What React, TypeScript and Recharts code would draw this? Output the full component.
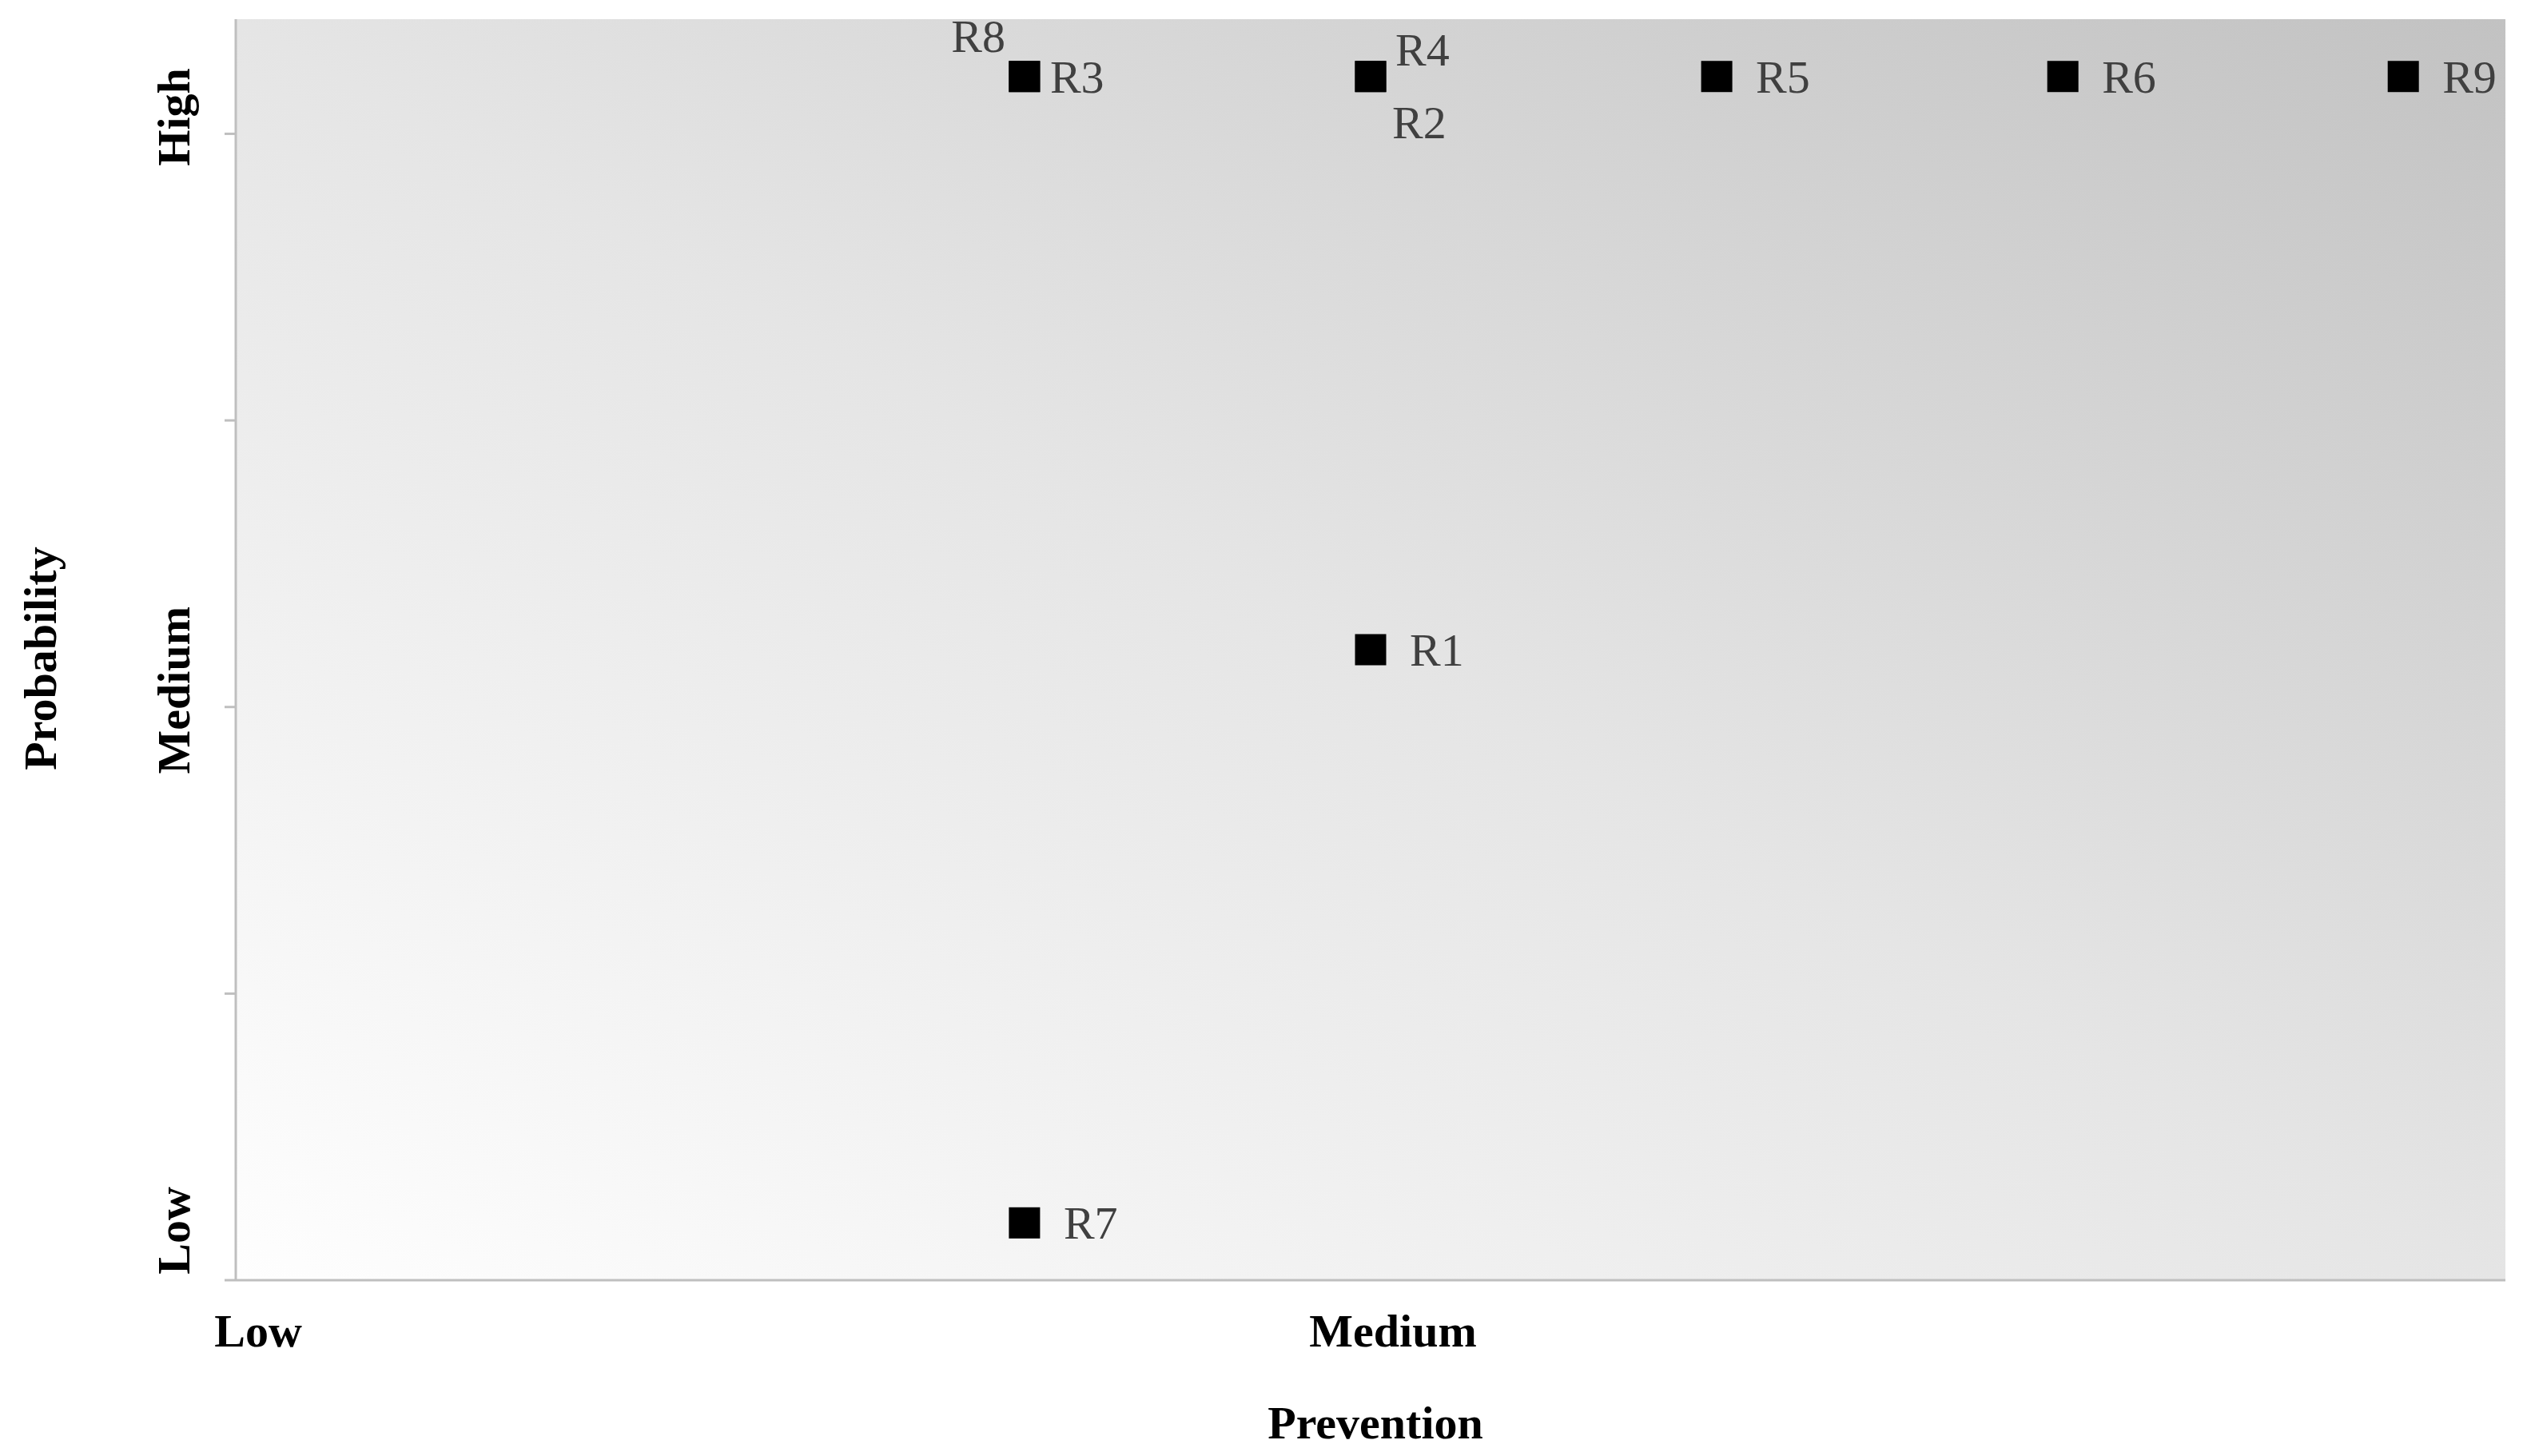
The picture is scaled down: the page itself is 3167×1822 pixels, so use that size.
import * as React from 'react'
import {
    CartesianGrid,
    Scatter,
    ScatterChart,
    XAxis,
    YAxis,
} from 'recharts'

// risk matrix values
const riskNames = ['R1', 'R2', 'R3', 'R4', 'R5', 'R6', 'R7', 'R8', 'R9']
const prevention = [2, 2, 1.39, 2, 2.61, 3.22, 1.39, 1.39, 3.82]
const probability = [2.2, 4.2, 4.2, 4.2, 4.2, 4.2, 0.2, 4.2, 4.2]

const levelTicks = [0, 2, 4]
const levelNames = ['Low', 'Medium', 'High']
const yTicks = [0, 1, 2, 3, 4]

// where each point's label sits relative to its marker
const labelPlacement: Record<string, { dx: number; dy: number; anchor: 'start' | 'end' }> = {
    R1: { dx: 49, dy: 0, anchor: 'start' },
    R2: { dx: 27, dy: 57, anchor: 'start' },
    R3: { dx: 32, dy: 0, anchor: 'start' },
    R4: { dx: 31, dy: -34, anchor: 'start' },
    R5: { dx: 49, dy: 0, anchor: 'start' },
    R6: { dx: 49, dy: 0, anchor: 'start' },
    R7: { dx: 49, dy: 0, anchor: 'start' },
    R8: { dx: -24, dy: -51, anchor: 'end' },
    R9: { dx: 49, dy: 0, anchor: 'start' },
}

const FONT = '"Liberation Serif", "DejaVu Serif", serif'
const AXIS_GRAY = '#bfbfbf'

const data = riskNames.map((name, i) => ({
    name,
    x: prevention[i],
    y: probability[i],
}))

function levelName(v: number) {
    const i = levelTicks.indexOf(v)
    return i >= 0 ? levelNames[i] : ''
}

function RiskMarker(props: any) {
    const { cx, cy } = props
    const name = props.payload?.name ?? props.name
    const place = labelPlacement[name] ?? { dx: 49, dy: 0, anchor: 'start' }
    const size = 39
    return (
        <g>
            <rect x={cx - size / 2} y={cy - size / 2} width={size} height={size} fill="#000" />
            <text
                x={cx + place.dx}
                y={cy + place.dy + 20}
                textAnchor={place.anchor}
                fontFamily={FONT}
                fontSize={58}
                fill="#404040"
            >
                {name}
            </text>
        </g>
    )
}

function XTick(props: any) {
    const { x, payload } = props
    return (
        <text
            x={x + 28}
            y={1685}
            textAnchor="middle"
            fontFamily={FONT}
            fontWeight="bold"
            fontSize={58}
            fill="#000"
        >
            {levelName(payload.value)}
        </text>
    )
}

function YTick(props: any) {
    const { y, payload } = props
    const label = levelName(payload.value)
    if (!label) return null
    const cy = y + (payload.value === 0 ? -62 : -21)
    return (
        <text
            x={237}
            y={cy}
            transform={`rotate(-90, 237, ${cy})`}
            textAnchor="middle"
            fontFamily={FONT}
            fontWeight="bold"
            fontSize={58}
            fill="#000"
        >
            {label}
        </text>
    )
}

export default function App() {
    return (
        <div style={{ position: 'absolute', left: 0, top: 0, background: '#fff' }}>
            <ScatterChart
                width={3167}
                height={1822}
                margin={{ top: 24, right: 32, bottom: 0, left: 0 }}
            >
                <defs>
                    <linearGradient id="riskBg" x1="0" y1="1" x2="1" y2="0">
                        <stop offset="0%" stopColor="#fefefe" />
                        <stop offset="50%" stopColor="#e5e5e5" />
                        <stop offset="100%" stopColor="#c2c2c2" />
                    </linearGradient>
                </defs>
                <CartesianGrid
                    horizontal={false}
                    vertical={false}
                    fill="url(#riskBg)"
                    fillOpacity={1}
                    stroke="none"
                />
                <XAxis
                    type="number"
                    dataKey="x"
                    domain={[0, 4]}
                    ticks={[0, 2]}
                    allowDataOverflow
                    height={220}
                    tickLine={false}
                    axisLine={{ stroke: AXIS_GRAY, strokeWidth: 3 }}
                    tick={<XTick />}
                    label={{
                        content: (p: any) => {
                            const vb = p.viewBox
                            return (
                                <text
                                    x={vb.x + vb.width / 2 + 6}
                                    y={1800}
                                    textAnchor="middle"
                                    fontFamily={FONT}
                                    fontWeight="bold"
                                    fontSize={58}
                                    fill="#000"
                                >
                                    Prevention
                                </text>
                            )
                        },
                    }}
                />
                <YAxis
                    type="number"
                    dataKey="y"
                    domain={[0, 4.4]}
                    ticks={yTicks}
                    allowDataOverflow
                    width={295}
                    tickSize={14}
                    tickLine={{ stroke: AXIS_GRAY, strokeWidth: 3 }}
                    axisLine={{ stroke: AXIS_GRAY, strokeWidth: 3 }}
                    tick={<YTick />}
                    label={{
                        content: (p: any) => {
                            const vb = p.viewBox
                            const cy = vb.y + vb.height / 2 + 11
                            return (
                                <text
                                    x={70}
                                    y={cy}
                                    transform={`rotate(-90, 70, ${cy})`}
                                    textAnchor="middle"
                                    fontFamily={FONT}
                                    fontWeight="bold"
                                    fontSize={58}
                                    fill="#000"
                                >
                                    Probability
                                </text>
                            )
                        },
                    }}
                />
                <Scatter
                    data={data}
                    shape={<RiskMarker />}
                    isAnimationActive={false}
                />
            </ScatterChart>
        </div>
    )
}
